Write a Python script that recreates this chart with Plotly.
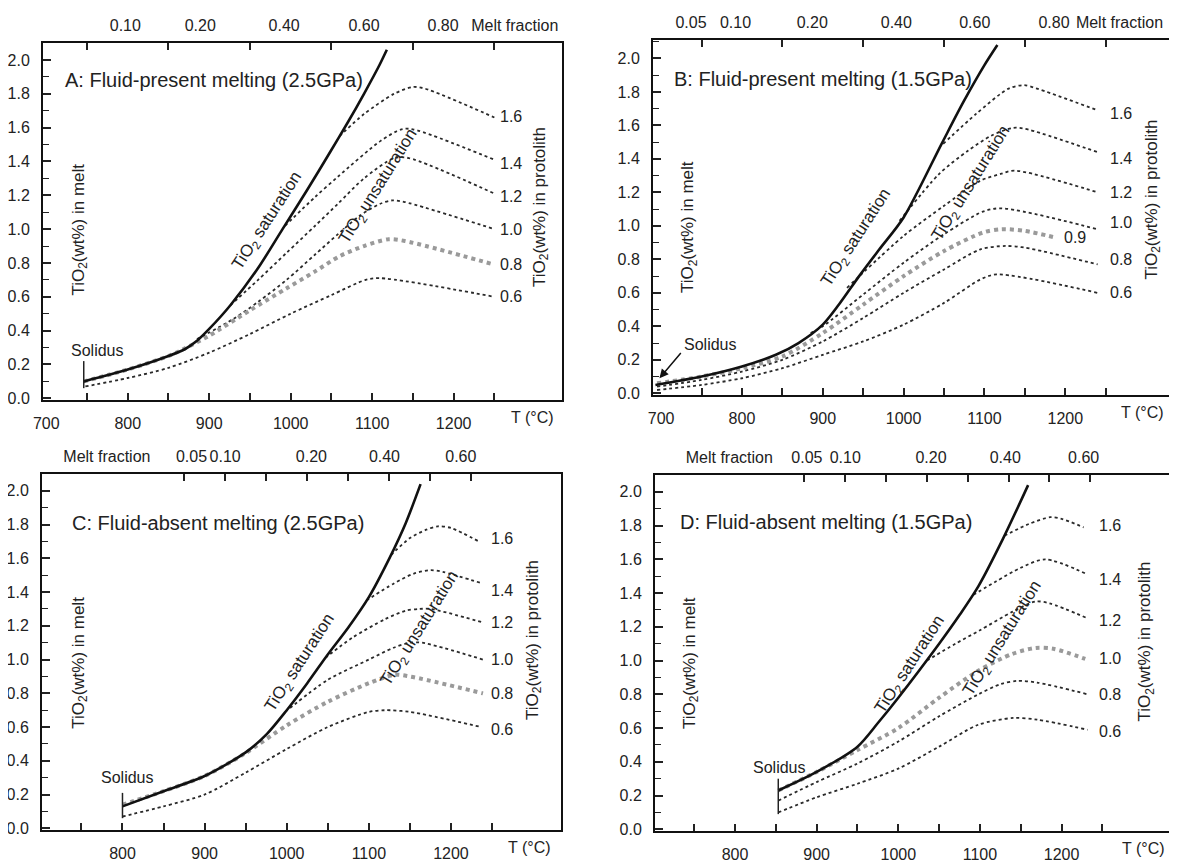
import plotly.graph_objects as go

# ---------------- DATA ----------------
# Panel A: Fluid-present melting (2.5GPa)
A_sat_T = [746, 800, 850, 870, 885, 900, 926, 960, 990, 1020, 1049, 1070, 1090, 1109, 1118]
A_sat_v = [0.10, 0.17, 0.25, 0.29, 0.34, 0.41, 0.55, 0.77, 1.00, 1.23, 1.46, 1.63, 1.80, 1.97, 2.06]
A_T16 = [1060, 1090, 1127, 1150, 1165, 1250]
A_v16 = [1.55, 1.68, 1.80, 1.84, 1.83, 1.66]
A_T14 = [993, 1030, 1058, 1110, 1136, 1150, 1250]
A_v14 = [1.02, 1.19, 1.31, 1.52, 1.59, 1.59, 1.41]
A_T12 = [926, 960, 995, 1030, 1058, 1090, 1127, 1145, 1250]
A_v12 = [0.55, 0.70, 0.86, 1.02, 1.15, 1.30, 1.42, 1.42, 1.21]
A_T10 = [885, 930, 960, 995, 1030, 1058, 1085, 1110, 1125, 1140, 1250]
A_v10 = [0.35, 0.47, 0.57, 0.70, 0.85, 0.97, 1.08, 1.15, 1.17, 1.16, 1.00]
A_T08 = [746, 800, 850, 868, 900, 950, 995, 1030, 1060, 1090, 1120, 1140, 1250]
A_v08 = [0.10, 0.17, 0.25, 0.29, 0.37, 0.52, 0.65, 0.75, 0.84, 0.90, 0.94, 0.93, 0.79]
A_T06 = [748, 800, 850, 900, 950, 1000, 1050, 1092, 1110, 1250]
A_v06 = [0.07, 0.12, 0.18, 0.27, 0.38, 0.50, 0.61, 0.70, 0.71, 0.60]

# Panel B: Fluid-present melting (1.5GPa)
B_sat_T = [693, 750, 800, 842, 870, 900, 920, 945, 970, 1000, 1047, 1074, 1100, 1116]
B_sat_v = [0.05, 0.10, 0.16, 0.23, 0.30, 0.41, 0.53, 0.70, 0.86, 1.05, 1.49, 1.74, 1.96, 2.08]
B_T16 = [1049, 1090, 1130, 1149, 1165, 1240]
B_v16 = [1.49, 1.67, 1.82, 1.84, 1.82, 1.69]
B_T14 = [995, 1044, 1080, 1109, 1135, 1150, 1240]
B_v14 = [1.03, 1.31, 1.45, 1.54, 1.585, 1.58, 1.44]
B_T12 = [930, 1000, 1050, 1095, 1120, 1137, 1240]
B_v12 = [0.63, 0.94, 1.12, 1.27, 1.31, 1.33, 1.20]
B_T10 = [885, 900, 950, 1000, 1050, 1098, 1121, 1240]
B_v10 = [0.36, 0.40, 0.59, 0.78, 0.95, 1.085, 1.105, 0.98]
B_T09 = [695, 750, 800, 850, 900, 950, 1000, 1050, 1098, 1121, 1150, 1188]
B_v09 = [0.06, 0.10, 0.15, 0.22, 0.36, 0.53, 0.70, 0.85, 0.96, 0.98, 0.97, 0.93]
B_T08 = [695, 750, 800, 850, 900, 950, 1000, 1050, 1095, 1126, 1150, 1240]
B_v08 = [0.04, 0.08, 0.13, 0.20, 0.31, 0.45, 0.60, 0.74, 0.86, 0.88, 0.87, 0.77]
B_T06 = [695, 750, 800, 850, 900, 950, 1000, 1050, 1095, 1115, 1240]
B_v06 = [0.02, 0.05, 0.09, 0.15, 0.23, 0.31, 0.41, 0.54, 0.68, 0.71, 0.60]

# Panel C: Fluid-absent melting (2.5GPa)
C_sat_T = [800, 850, 900, 950, 976, 1000, 1025, 1050, 1075, 1100, 1125, 1145, 1163]
C_sat_v = [0.13, 0.22, 0.31, 0.45, 0.56, 0.70, 0.86, 1.03, 1.19, 1.37, 1.60, 1.81, 2.04]
C_T16 = [1127, 1150, 1170, 1184, 1200, 1234]
C_v16 = [1.62, 1.72, 1.77, 1.79, 1.78, 1.70]
C_T14 = [1097, 1130, 1155, 1175, 1190, 1239]
C_v14 = [1.35, 1.45, 1.51, 1.53, 1.52, 1.45]
C_T12 = [1047, 1080, 1120, 1145, 1161, 1175, 1239]
C_v12 = [1.01, 1.13, 1.24, 1.29, 1.30, 1.30, 1.22]
C_T10 = [998, 1050, 1100, 1130, 1150, 1165, 1239]
C_v10 = [0.69, 0.88, 1.00, 1.07, 1.10, 1.10, 1.00]
C_T08 = [800, 850, 900, 948, 1000, 1050, 1100, 1131, 1150, 1239]
C_v08 = [0.14, 0.22, 0.31, 0.44, 0.61, 0.75, 0.86, 0.91, 0.90, 0.80]
C_T06 = [800, 850, 900, 950, 1000, 1050, 1100, 1120, 1150, 1237]
C_v06 = [0.07, 0.13, 0.20, 0.33, 0.47, 0.60, 0.69, 0.70, 0.69, 0.60]

# Panel D: Fluid-absent melting (1.5GPa)
D_sat_T = [853, 900, 950, 975, 1000, 1050, 1075, 1098, 1128, 1159]
D_sat_v = [0.23, 0.34, 0.49, 0.63, 0.78, 1.10, 1.27, 1.44, 1.72, 2.04]
D_T16 = [1130, 1160, 1186, 1200, 1227]
D_v16 = [1.74, 1.81, 1.85, 1.84, 1.79]
D_T14 = [1092, 1120, 1150, 1180, 1232]
D_v14 = [1.39, 1.47, 1.55, 1.60, 1.51]
D_T12 = [1035, 1070, 1100, 1140, 1168, 1185, 1232]
D_v12 = [1.00, 1.10, 1.18, 1.29, 1.35, 1.34, 1.25]
D_T10 = [853, 900, 950, 1000, 1050, 1098, 1140, 1168, 1190, 1229]
D_v10 = [0.23, 0.34, 0.47, 0.60, 0.78, 0.94, 1.04, 1.075, 1.07, 1.01]
D_T08 = [853, 900, 950, 1000, 1050, 1098, 1125, 1146, 1170, 1232]
D_v08 = [0.17, 0.28, 0.39, 0.52, 0.67, 0.80, 0.86, 0.88, 0.87, 0.80]
D_T06 = [853, 900, 950, 1000, 1050, 1098, 1141, 1170, 1232]
D_v06 = [0.10, 0.19, 0.27, 0.36, 0.49, 0.62, 0.66, 0.65, 0.59]

# Solidus markers (temperature, low and high value of the short vertical mark)
solidus_A = [746, 0.06, 0.22]
solidus_C = [800, 0.06, 0.21]
solidus_D = [853, 0.09, 0.30]
solidus_B_tip = [698, 0.09]

# Curve labels (TiO2 wt% in protolith)
curve_labels = ["1.6", "1.4", "1.2", "1.0", "0.8", "0.6"]
A_label_v = [1.665, 1.39, 1.19, 1.0, 0.79, 0.60]
B_label_v = [1.67, 1.40, 1.20, 1.02, 0.80, 0.60]
C_label_v = [1.72, 1.41, 1.22, 1.00, 0.80, 0.585]
D_label_v = [1.80, 1.48, 1.24, 1.01, 0.80, 0.58]

# Axis ticks
A_xticks = [700, 800, 900, 1000, 1100, 1200]
B_xticks = [700, 800, 900, 1000, 1100, 1200]
C_xticks = [800, 900, 1000, 1100, 1200]
D_xticks = [800, 900, 1000, 1100, 1200]
y_ticks = [0.0, 0.2, 0.4, 0.6, 0.8, 1.0, 1.2, 1.4, 1.6, 1.8, 2.0]

# Melt fraction (top axis) labels and their temperature positions
A_mf_text = ["0.10", "0.20", "0.40", "0.60", "0.80", "Melt fraction"]
A_mf_T = [797, 889, 992, 1090, 1187, 1275]
B_mf_text = ["0.05", "0.10", "0.20", "0.40", "0.60", "0.80", "Melt fraction"]
B_mf_T = [737, 792, 887, 991, 1088, 1186, 1267]
C_mf_text = ["Melt fraction", "0.05", "0.10", "0.20", "0.40", "0.60"]
C_mf_T = [781, 884, 925, 1030, 1119, 1212]
D_mf_text = ["Melt fraction", "0.05", "0.10", "0.20", "0.40", "0.60"]
D_mf_T = [793, 888, 935, 1040, 1131, 1227]
A_top_ticks = [750, 850, 950, 1050, 1150, 1250]
B_top_ticks = [750, 850, 950, 1050, 1150, 1250]
C_top_ticks = [875, 925, 975, 1025, 1075, 1125, 1175, 1225]
D_top_ticks = [885, 935, 985, 1035, 1085, 1135, 1185, 1235]
bottom_minor = [750, 800, 850, 900, 950, 1000, 1050, 1100, 1150, 1200, 1250]

FONT = "Liberation Sans, Arial, sans-serif"
INK = "#222222"
TICK_SIZE = 16

panels = [
    dict(xa="x", ya="y", xa_top="x5", dom_x=[43, 562], dom_y=[43, 400], xr=[696, 1333], yr=[-0.01, 2.1],
         title="A: Fluid-present melting (2.5GPa)", title_pos=(720, 1.88),
         sat=(A_sat_T, A_sat_v),
         curves=[(A_T16, A_v16, 0), (A_T14, A_v14, 0), (A_T12, A_v12, 0), (A_T10, A_v10, 0), (A_T08, A_v08, 1), (A_T06, A_v06, 0)],
         label_x=1254, label_v=A_label_v, extra_label=None,
         xticks=A_xticks, mf=(A_mf_T, A_mf_text), top_ticks=A_top_ticks, tlabel_x=1297,
         left_title=(741, 0.995), right_title=(1307, 1.13),
         sat_text=(972, 1.05), unsat_text=(1108, 1.25), solidus=solidus_A, solidus_text=(762, 0.285)),
    dict(xa="x2", ya="y2", xa_top="x6", dom_x=[653, 1172], dom_y=[40, 395], xr=[690, 1332], yr=[-0.01, 2.11],
         title="B: Fluid-present melting (1.5GPa)", title_pos=(713, 1.877),
         sat=(B_sat_T, B_sat_v),
         curves=[(B_T16, B_v16, 0), (B_T14, B_v14, 0), (B_T12, B_v12, 0), (B_T10, B_v10, 0), (B_T09, B_v09, 1), (B_T08, B_v08, 0), (B_T06, B_v06, 0)],
         label_x=1253, label_v=B_label_v, extra_label=("0.9", 1196, 0.93),
         xticks=B_xticks, mf=(B_mf_T, B_mf_text), top_ticks=B_top_ticks, tlabel_x=1295,
         left_title=(734, 0.99), right_title=(1308, 1.155),
         sat_text=(942, 0.93), unsat_text=(1084, 1.25), solidus=None, solidus_text=(760, 0.29)),
    dict(xa="x3", ya="y3", xa_top="x7", dom_x=[42, 561], dom_y=[474, 830], xr=[702, 1334], yr=[-0.01, 2.1],
         title="C: Fluid-absent melting (2.5GPa)", title_pos=(736, 1.81),
         sat=(C_sat_T, C_sat_v),
         curves=[(C_T16, C_v16, 0), (C_T14, C_v14, 0), (C_T12, C_v12, 0), (C_T10, C_v10, 0), (C_T08, C_v08, 1), (C_T06, C_v06, 0)],
         label_x=1246, label_v=C_label_v, extra_label=None,
         xticks=C_xticks, mf=(C_mf_T, C_mf_text), top_ticks=C_top_ticks, tlabel_x=1296,
         left_title=(748, 0.98), right_title=(1301, 1.116),
         sat_text=(1017, 0.98), unsat_text=(1163, 1.18), solidus=solidus_C, solidus_text=(805, 0.30)),
    dict(xa="x4", ya="y4", xa_top="x8", dom_x=[655, 1171], dom_y=[475, 831], xr=[702, 1334], yr=[-0.01, 2.1],
         title="D: Fluid-absent melting (1.5GPa)", title_pos=(730, 1.82),
         sat=(D_sat_T, D_sat_v),
         curves=[(D_T16, D_v16, 0), (D_T14, D_v14, 0), (D_T12, D_v12, 0), (D_T10, D_v10, 1), (D_T08, D_v08, 0), (D_T06, D_v06, 0)],
         label_x=1243, label_v=D_label_v, extra_label=None,
         xticks=D_xticks, mf=(D_mf_T, D_mf_text), top_ticks=D_top_ticks, tlabel_x=1300,
         left_title=(746, 0.985), right_title=(1304, 1.11),
         sat_text=(1015, 0.975), unsat_text=(1128, 1.13), solidus=solidus_D, solidus_text=(854, 0.365)),
]

# The page body has an 8px margin, so the figure starts at (8, 8) of the window.
OFF = 8
W, H = 1177 - OFF, 862 - OFF
fig = go.Figure()
annotations = []
layout = dict(width=W, height=H, margin=dict(l=0, r=0, t=0, b=0, autoexpand=False), showlegend=False,
              paper_bgcolor="white", plot_bgcolor="white",
              font=dict(family=FONT, size=TICK_SIZE, color=INK))

for i, p in enumerate(panels):
    n = i + 1
    xk = "xaxis" if n == 1 else f"xaxis{n}"
    yk = "yaxis" if n == 1 else f"yaxis{n}"
    tk = f"xaxis{n + 4}"
    xd = [(p["dom_x"][0] - OFF) / W, (p["dom_x"][1] - OFF) / W]
    yd = [1 - (p["dom_y"][1] - OFF) / H, 1 - (p["dom_y"][0] - OFF) / H]
    layout[xk] = dict(domain=xd, range=p["xr"], anchor=p["ya"], showgrid=False, zeroline=False,
                      automargin=False, tickangle=0,
                      showline=True, linecolor="#111", linewidth=2, mirror=True,
                      tickmode="array", tickvals=p["xticks"], ticktext=[str(v) for v in p["xticks"]],
                      ticks="", ticklabelstandoff=8, tickfont=dict(size=TICK_SIZE, color=INK),
                      minor=dict(tickmode="array", tickvals=bottom_minor, ticks="inside", ticklen=7,
                                 tickwidth=1.5, tickcolor="#222"))
    layout[yk] = dict(domain=yd, range=p["yr"], anchor=p["xa"], showgrid=False, zeroline=False,
                      automargin=False,
                      showline=True, linecolor="#111", linewidth=2, mirror=True,
                      tickmode="array", tickvals=y_ticks, ticktext=[f"{v:.1f}" for v in y_ticks],
                      ticks="inside", ticklen=8, tickwidth=1.5, tickcolor="#222",
                      ticklabelstandoff=8, tickfont=dict(size=TICK_SIZE, color=INK),
                      minor=dict(dtick=0.1, tick0=0, ticks="inside", ticklen=6, tickwidth=1.2, tickcolor="#222"))
    layout[tk] = dict(overlaying=p["xa"], anchor=p["ya"], side="top", range=p["xr"], showgrid=False,
                      automargin=False, tickangle=0,
                      zeroline=False, showline=False, tickmode="array", tickvals=p["mf"][0], ticktext=p["mf"][1],
                      ticks="", ticklabelstandoff=8, tickfont=dict(size=TICK_SIZE, color=INK),
                      minor=dict(tickmode="array", tickvals=p["top_ticks"], ticks="inside", ticklen=7,
                                 tickwidth=1.5, tickcolor="#222"))
    fig.add_trace(go.Scatter(x=[p["xr"][0]], y=[p["yr"][0]], xaxis=p["xa_top"], yaxis=p["ya"],
                             mode="markers", marker=dict(opacity=0), hoverinfo="skip"))

    for T, v, gray in p["curves"]:
        if gray:
            line = dict(color="#9a9a9a", width=4, dash="dot")
        else:
            line = dict(color="#2a2a2a", width=1.8, dash="dot")
        fig.add_trace(go.Scatter(x=T, y=v, mode="lines", line=line, xaxis=p["xa"], yaxis=p["ya"],
                                 line_shape="spline", line_smoothing=0.8, hoverinfo="skip"))
    fig.add_trace(go.Scatter(x=p["sat"][0], y=p["sat"][1], mode="lines",
                             line=dict(color="#111", width=2.6), line_shape="spline", line_smoothing=0.8,
                             xaxis=p["xa"], yaxis=p["ya"], hoverinfo="skip"))
    if p["solidus"] is not None:
        s = p["solidus"]
        fig.add_trace(go.Scatter(x=[s[0], s[0]], y=[s[1], s[2]], mode="lines",
                                 line=dict(color="#222", width=1.5), xaxis=p["xa"], yaxis=p["ya"],
                                 hoverinfo="skip"))

    xr_, yr_ = p["xa"], p["ya"]
    annotations.append(dict(x=p["title_pos"][0], y=p["title_pos"][1], xref=xr_, yref=yr_, text=p["title"],
                            showarrow=False, xanchor="left", yanchor="middle", font=dict(size=20, color=INK)))
    for lab, lv in zip(curve_labels, p["label_v"]):
        annotations.append(dict(x=p["label_x"], y=lv, xref=xr_, yref=yr_, text=lab, showarrow=False,
                                xanchor="left", yanchor="middle", font=dict(size=TICK_SIZE, color=INK)))
    if p["extra_label"]:
        lab, lx, lv = p["extra_label"]
        annotations.append(dict(x=lx, y=lv, xref=xr_, yref=yr_, text=lab, showarrow=False,
                                xanchor="left", yanchor="middle", font=dict(size=TICK_SIZE, color=INK)))
    annotations.append(dict(x=p["left_title"][0], y=p["left_title"][1], xref=xr_, yref=yr_,
                            text="TiO<sub>2</sub>(wt%) in melt", textangle=-90, showarrow=False,
                            font=dict(size=17, color=INK)))
    annotations.append(dict(x=p["right_title"][0], y=p["right_title"][1], xref=xr_, yref=yr_,
                            text="TiO<sub>2</sub>(wt%) in protolith", textangle=-90, showarrow=False,
                            font=dict(size=17, color=INK)))
    annotations.append(dict(x=p["sat_text"][0], y=p["sat_text"][1], xref=xr_, yref=yr_,
                            text="TiO<sub>2</sub> saturation", textangle=-57, showarrow=False,
                            font=dict(size=17, color=INK)))
    annotations.append(dict(x=p["unsat_text"][0], y=p["unsat_text"][1], xref=xr_, yref=yr_,
                            text="TiO<sub>2</sub> unsaturation", textangle=-58, showarrow=False,
                            font=dict(size=17, color=INK)))
    annotations.append(dict(x=p["solidus_text"][0], y=p["solidus_text"][1], xref=xr_, yref=yr_,
                            text="Solidus", showarrow=False, font=dict(size=16, color=INK)))
    annotations.append(dict(x=p["tlabel_x"], y=0, xref=xr_, yref=f"{yr_} domain", text="T (°C)",
                            showarrow=False, yanchor="top", yshift=-7, font=dict(size=TICK_SIZE, color=INK)))

annotations.append(dict(x=solidus_B_tip[0], y=solidus_B_tip[1], xref="x2", yref="y2",
                        ax=726, ay=0.25, axref="x2", ayref="y2", text="", showarrow=True,
                        arrowhead=2, arrowsize=1.2, arrowwidth=1.5, arrowcolor="#111"))

layout["annotations"] = annotations
fig.update_layout(**layout)
fig.write_html("out.html")
